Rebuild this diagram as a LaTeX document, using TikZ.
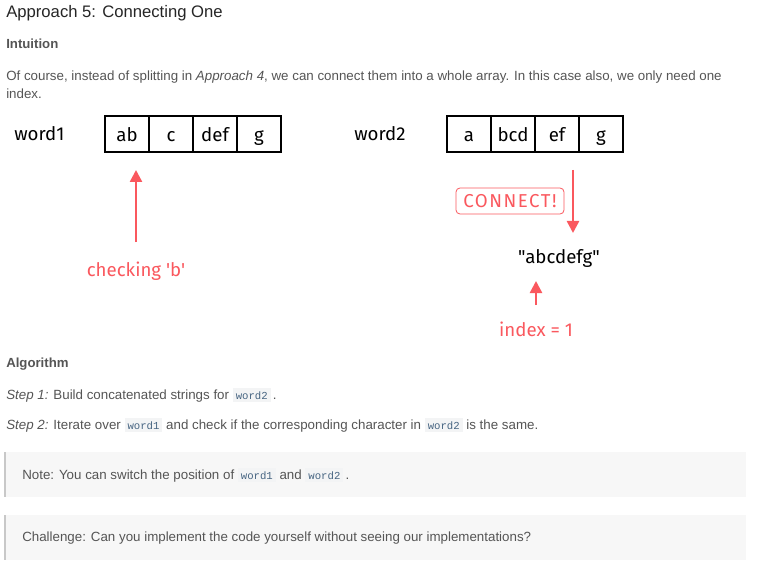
\documentclass[tikz,border=0pt]{standalone}
\usepackage{fontspec}
\setmainfont{Liberation Sans}
\newfontfamily\diagfont{Fira Sans}
\newfontfamily\codefont{Liberation Mono}
\usetikzlibrary{arrows.meta}
\definecolor{redc}{RGB}{250,88,94}
\definecolor{bodyc}{RGB}{85,85,85}
\definecolor{titlec}{RGB}{38,38,38}
\definecolor{notebg}{RGB}{247,247,247}
\definecolor{notebar}{RGB}{200,200,200}
\definecolor{codebg}{RGB}{243,244,245}
\definecolor{codefg}{RGB}{71,101,130}
\newcommand\mycode[1]{{\setlength\fboxsep{2.2pt}\colorbox{codebg}{\codefont\fontsize{8}{9}\selectfont\textcolor{codefg}{#1}}}}
\begin{document}
\begin{tikzpicture}[x=0.75pt,y=-0.75pt,
  bodytext/.style={anchor=base west,inner sep=0pt,text=bodyc,font=\fontsize{10}{12}\selectfont},
  headtext/.style={anchor=base west,inner sep=0pt,text=bodyc,font=\bfseries\fontsize{9.9}{12}\selectfont},
  cell/.style={draw=black,line width=0.8pt,minimum width=33pt,minimum height=27pt,inner sep=0pt,
    text height=13pt,text depth=2pt,font=\diagfont\fontsize{14}{16}\selectfont},
  wordlabel/.style={anchor=base west,inner sep=0pt,font=\diagfont\fontsize{14}{16}\selectfont},
  redtext/.style={inner sep=0pt,text=redc,font=\diagfont\fontsize{14}{16}\selectfont},
  redarrow/.style={draw=redc,line width=1.9pt,-{Triangle[length=9pt,width=9pt]}},
  notebox/.style={fill=notebg,draw=none},
  notebarline/.style={draw=notebar,line width=1.5pt}
]
\useasboundingbox[fill=white] (0,0) rectangle (758,567);

% title and intuition
\node[anchor=base west,inner sep=0pt,text=titlec,font=\fontsize{12.5}{14}\selectfont] (title) at (6,18) {Approach 5: Connecting One};
\node[headtext] (intu) at (6,49) {Intuition};
\node[bodytext] (p1) at (6,81) {Of course, instead of splitting in \textit{Approach 4}, we can connect them into a whole array. In this case also, we only need one};
\node[bodytext] (p2) at (6,99) {index.};

% word1
\node[wordlabel] (w1lab) at (14,141) {word1};
\node[cell] (w1a) at (127,134) {ab};
\node[cell] (w1b) at (171,134) {c};
\node[cell] (w1c) at (215,134) {def};
\node[cell] (w1d) at (259,134) {g};

% word2
\node[wordlabel] (w2lab) at (354,141) {word2};
\node[cell] (w2a) at (469,134) {a};
\node[cell] (w2b) at (513,134) {bcd};
\node[cell] (w2c) at (557,134) {ef};
\node[cell] (w2d) at (601,134) {g};

% checking arrow
\node[redtext] (chk) at (136,271) {checking 'b'};
\coordinate (chkfrom) at (136,242);
\coordinate (chkto) at (136,170);
\draw[redarrow] (chkfrom) -- (chkto);

% connect
\node[redtext,draw=redc,line width=0.6pt,rounded corners=3pt,minimum width=81pt,minimum height=19.5pt,
  font=\diagfont\fontsize{14}{16}\selectfont\addfontfeature{LetterSpace=8}] (conn) at (510,201) {CONNECT!};
\coordinate (cfrom) at (573,170);
\coordinate (cto) at (573,233);
\draw[redarrow] (cfrom) -- (cto);
\node[inner sep=0pt,font=\diagfont\fontsize{14}{16}\selectfont] (joined) at (559,258) {"abcdefg"};

% index arrow
\node[redtext] (idx) at (536,329) {index = 1};
\coordinate (ifrom) at (536,305);
\coordinate (ito) at (536,281);
\draw[redarrow] (ifrom) -- (ito);

% algorithm
\node[headtext] (algo) at (6,367) {Algorithm};
\node[bodytext] (s1) at (6,399) {\textit{Step 1:} Build concatenated strings for \mycode{word2}\,.};
\node[bodytext] (s2) at (6,429) {\textit{Step 2:} Iterate over \mycode{word1} and check if the corresponding character in \mycode{word2} is the same.};

% note boxes
\fill[notebox] (4,452) rectangle (746,497);
\draw[notebarline] (5,452) -- (5,497);
\node[bodytext] (note) at (22,479) {Note: You can switch the position of \mycode{word1} and \mycode{word2}\,.};
\fill[notebox] (4,515) rectangle (746,560);
\draw[notebarline] (5,515) -- (5,560);
\node[bodytext] (chal) at (22,541) {Challenge: Can you implement the code yourself without seeing our implementations?};
\end{tikzpicture}
\end{document}
